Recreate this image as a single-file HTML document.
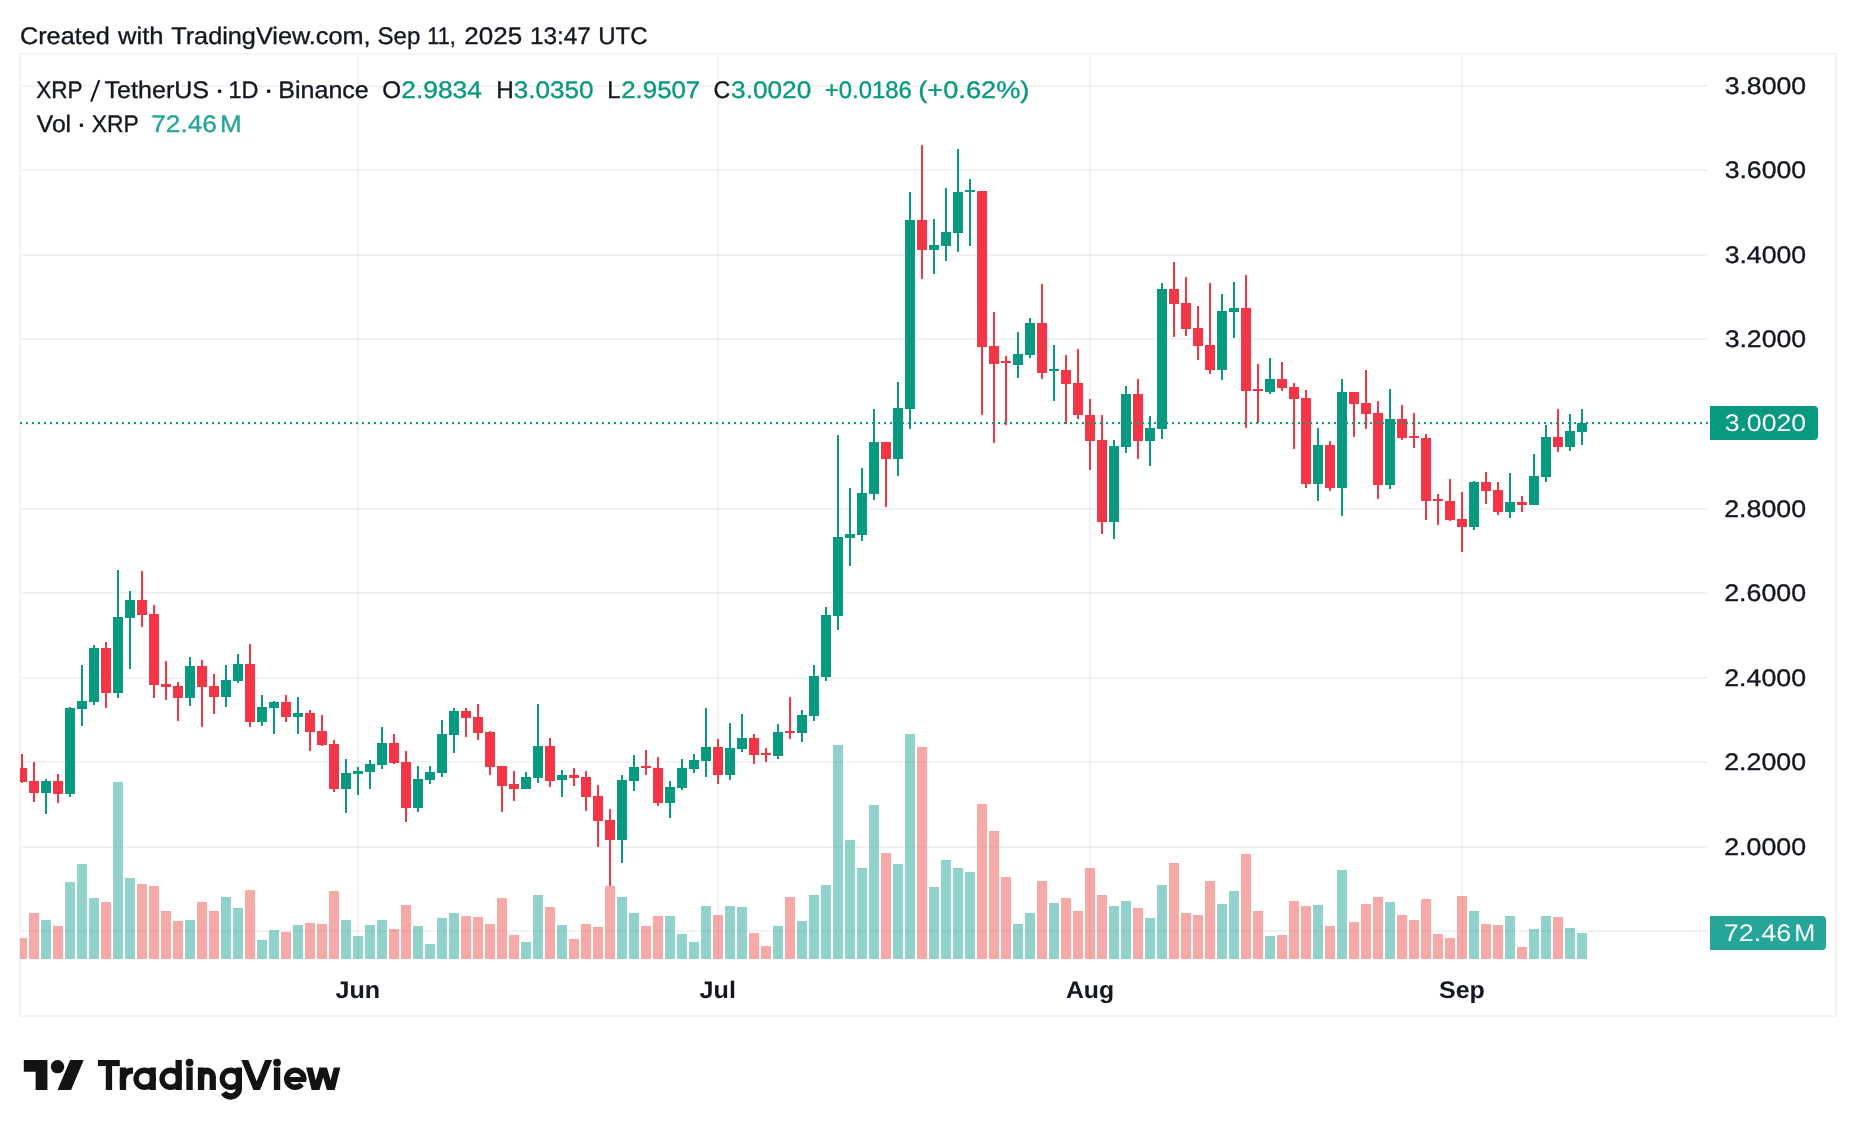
<!DOCTYPE html>
<html><head><meta charset="utf-8"><title>XRPUSDT chart</title>
<style>html,body{margin:0;padding:0;background:#fff;}body{width:1856px;height:1136px;overflow:hidden;}svg{display:block;will-change:transform;}text{font-family:"Liberation Sans",sans-serif;}</style>
</head><body>
<svg width="1856" height="1136" viewBox="0 0 1856 1136" shape-rendering="crispEdges">
<rect x="0" y="0" width="1856" height="1136" fill="#ffffff"/>
<defs><clipPath id="plot"><rect x="20" y="55" width="1688" height="905"/></clipPath></defs>
<rect x="19" y="53" width="1818" height="2" fill="#f3f3f3"/>
<rect x="19" y="1015" width="1818" height="2" fill="#f3f3f3"/>
<rect x="19" y="53" width="2" height="964" fill="#f3f3f3"/>
<rect x="1835" y="53" width="2" height="964" fill="#f3f3f3"/>
<rect x="21" y="85" width="1687" height="2" fill="rgba(30,30,30,0.06)"/>
<rect x="21" y="169" width="1687" height="2" fill="rgba(30,30,30,0.06)"/>
<rect x="21" y="254" width="1687" height="2" fill="rgba(30,30,30,0.06)"/>
<rect x="21" y="338" width="1687" height="2" fill="rgba(30,30,30,0.06)"/>
<rect x="21" y="423" width="1687" height="2" fill="rgba(30,30,30,0.06)"/>
<rect x="21" y="508" width="1687" height="2" fill="rgba(30,30,30,0.06)"/>
<rect x="21" y="592" width="1687" height="2" fill="rgba(30,30,30,0.06)"/>
<rect x="21" y="677" width="1687" height="2" fill="rgba(30,30,30,0.06)"/>
<rect x="21" y="761" width="1687" height="2" fill="rgba(30,30,30,0.06)"/>
<rect x="21" y="846" width="1687" height="2" fill="rgba(30,30,30,0.06)"/>
<rect x="21" y="930" width="1687" height="2" fill="rgba(30,30,30,0.06)"/>
<rect x="357" y="55" width="2" height="905" fill="rgba(30,30,30,0.06)"/>
<rect x="717" y="55" width="2" height="905" fill="rgba(30,30,30,0.06)"/>
<rect x="1089" y="55" width="2" height="905" fill="rgba(30,30,30,0.06)"/>
<rect x="1461" y="55" width="2" height="905" fill="rgba(30,30,30,0.06)"/>
<g clip-path="url(#plot)">
<rect x="17" y="938" width="10" height="21" fill="rgba(239,83,80,0.5)"/>
<rect x="29" y="913" width="10" height="46" fill="rgba(239,83,80,0.5)"/>
<rect x="41" y="920" width="10" height="39" fill="rgba(38,166,154,0.5)"/>
<rect x="53" y="926" width="10" height="33" fill="rgba(239,83,80,0.5)"/>
<rect x="65" y="882" width="10" height="77" fill="rgba(38,166,154,0.5)"/>
<rect x="77" y="864" width="10" height="95" fill="rgba(38,166,154,0.5)"/>
<rect x="89" y="898" width="10" height="61" fill="rgba(38,166,154,0.5)"/>
<rect x="101" y="902" width="10" height="57" fill="rgba(239,83,80,0.5)"/>
<rect x="113" y="782" width="10" height="177" fill="rgba(38,166,154,0.5)"/>
<rect x="125" y="878" width="10" height="81" fill="rgba(38,166,154,0.5)"/>
<rect x="137" y="884" width="10" height="75" fill="rgba(239,83,80,0.5)"/>
<rect x="149" y="886" width="10" height="73" fill="rgba(239,83,80,0.5)"/>
<rect x="161" y="911" width="10" height="48" fill="rgba(239,83,80,0.5)"/>
<rect x="173" y="921" width="10" height="38" fill="rgba(239,83,80,0.5)"/>
<rect x="185" y="920" width="10" height="39" fill="rgba(38,166,154,0.5)"/>
<rect x="197" y="902" width="10" height="57" fill="rgba(239,83,80,0.5)"/>
<rect x="209" y="911" width="10" height="48" fill="rgba(239,83,80,0.5)"/>
<rect x="221" y="897" width="10" height="62" fill="rgba(38,166,154,0.5)"/>
<rect x="233" y="908" width="10" height="51" fill="rgba(38,166,154,0.5)"/>
<rect x="245" y="890" width="10" height="69" fill="rgba(239,83,80,0.5)"/>
<rect x="257" y="940" width="10" height="19" fill="rgba(38,166,154,0.5)"/>
<rect x="269" y="930" width="10" height="29" fill="rgba(38,166,154,0.5)"/>
<rect x="281" y="932" width="10" height="27" fill="rgba(239,83,80,0.5)"/>
<rect x="293" y="925" width="10" height="34" fill="rgba(38,166,154,0.5)"/>
<rect x="305" y="923" width="10" height="36" fill="rgba(239,83,80,0.5)"/>
<rect x="317" y="924" width="10" height="35" fill="rgba(239,83,80,0.5)"/>
<rect x="329" y="891" width="10" height="68" fill="rgba(239,83,80,0.5)"/>
<rect x="341" y="920" width="10" height="39" fill="rgba(38,166,154,0.5)"/>
<rect x="353" y="936" width="10" height="23" fill="rgba(38,166,154,0.5)"/>
<rect x="365" y="925" width="10" height="34" fill="rgba(38,166,154,0.5)"/>
<rect x="377" y="920" width="10" height="39" fill="rgba(38,166,154,0.5)"/>
<rect x="389" y="929" width="10" height="30" fill="rgba(239,83,80,0.5)"/>
<rect x="401" y="905" width="10" height="54" fill="rgba(239,83,80,0.5)"/>
<rect x="413" y="926" width="10" height="33" fill="rgba(38,166,154,0.5)"/>
<rect x="425" y="944" width="10" height="15" fill="rgba(38,166,154,0.5)"/>
<rect x="437" y="918" width="10" height="41" fill="rgba(38,166,154,0.5)"/>
<rect x="449" y="913" width="10" height="46" fill="rgba(38,166,154,0.5)"/>
<rect x="461" y="916" width="10" height="43" fill="rgba(239,83,80,0.5)"/>
<rect x="473" y="917" width="10" height="42" fill="rgba(239,83,80,0.5)"/>
<rect x="485" y="924" width="10" height="35" fill="rgba(239,83,80,0.5)"/>
<rect x="497" y="898" width="10" height="61" fill="rgba(239,83,80,0.5)"/>
<rect x="509" y="935" width="10" height="24" fill="rgba(239,83,80,0.5)"/>
<rect x="521" y="942" width="10" height="17" fill="rgba(38,166,154,0.5)"/>
<rect x="533" y="895" width="10" height="64" fill="rgba(38,166,154,0.5)"/>
<rect x="545" y="907" width="10" height="52" fill="rgba(239,83,80,0.5)"/>
<rect x="557" y="925" width="10" height="34" fill="rgba(38,166,154,0.5)"/>
<rect x="569" y="939" width="10" height="20" fill="rgba(239,83,80,0.5)"/>
<rect x="581" y="924" width="10" height="35" fill="rgba(239,83,80,0.5)"/>
<rect x="593" y="927" width="10" height="32" fill="rgba(239,83,80,0.5)"/>
<rect x="605" y="886" width="10" height="73" fill="rgba(239,83,80,0.5)"/>
<rect x="617" y="897" width="10" height="62" fill="rgba(38,166,154,0.5)"/>
<rect x="629" y="913" width="10" height="46" fill="rgba(38,166,154,0.5)"/>
<rect x="641" y="926" width="10" height="33" fill="rgba(239,83,80,0.5)"/>
<rect x="653" y="916" width="10" height="43" fill="rgba(239,83,80,0.5)"/>
<rect x="665" y="916" width="10" height="43" fill="rgba(38,166,154,0.5)"/>
<rect x="677" y="934" width="10" height="25" fill="rgba(38,166,154,0.5)"/>
<rect x="689" y="942" width="10" height="17" fill="rgba(38,166,154,0.5)"/>
<rect x="701" y="906" width="10" height="53" fill="rgba(38,166,154,0.5)"/>
<rect x="713" y="915" width="10" height="44" fill="rgba(239,83,80,0.5)"/>
<rect x="725" y="906" width="10" height="53" fill="rgba(38,166,154,0.5)"/>
<rect x="737" y="907" width="10" height="52" fill="rgba(38,166,154,0.5)"/>
<rect x="749" y="933" width="10" height="26" fill="rgba(239,83,80,0.5)"/>
<rect x="761" y="946" width="10" height="13" fill="rgba(239,83,80,0.5)"/>
<rect x="773" y="926" width="10" height="33" fill="rgba(38,166,154,0.5)"/>
<rect x="785" y="897" width="10" height="62" fill="rgba(239,83,80,0.5)"/>
<rect x="797" y="921" width="10" height="38" fill="rgba(38,166,154,0.5)"/>
<rect x="809" y="895" width="10" height="64" fill="rgba(38,166,154,0.5)"/>
<rect x="821" y="885" width="10" height="74" fill="rgba(38,166,154,0.5)"/>
<rect x="833" y="745" width="10" height="214" fill="rgba(38,166,154,0.5)"/>
<rect x="845" y="840" width="10" height="119" fill="rgba(38,166,154,0.5)"/>
<rect x="857" y="868" width="10" height="91" fill="rgba(38,166,154,0.5)"/>
<rect x="869" y="805" width="10" height="154" fill="rgba(38,166,154,0.5)"/>
<rect x="881" y="853" width="10" height="106" fill="rgba(239,83,80,0.5)"/>
<rect x="893" y="864" width="10" height="95" fill="rgba(38,166,154,0.5)"/>
<rect x="905" y="734" width="10" height="225" fill="rgba(38,166,154,0.5)"/>
<rect x="917" y="747" width="10" height="212" fill="rgba(239,83,80,0.5)"/>
<rect x="929" y="887" width="10" height="72" fill="rgba(38,166,154,0.5)"/>
<rect x="941" y="860" width="10" height="99" fill="rgba(38,166,154,0.5)"/>
<rect x="953" y="868" width="10" height="91" fill="rgba(38,166,154,0.5)"/>
<rect x="965" y="872" width="10" height="87" fill="rgba(38,166,154,0.5)"/>
<rect x="977" y="804" width="10" height="155" fill="rgba(239,83,80,0.5)"/>
<rect x="989" y="831" width="10" height="128" fill="rgba(239,83,80,0.5)"/>
<rect x="1001" y="877" width="10" height="82" fill="rgba(239,83,80,0.5)"/>
<rect x="1013" y="924" width="10" height="35" fill="rgba(38,166,154,0.5)"/>
<rect x="1025" y="913" width="10" height="46" fill="rgba(38,166,154,0.5)"/>
<rect x="1037" y="881" width="10" height="78" fill="rgba(239,83,80,0.5)"/>
<rect x="1049" y="903" width="10" height="56" fill="rgba(38,166,154,0.5)"/>
<rect x="1061" y="898" width="10" height="61" fill="rgba(239,83,80,0.5)"/>
<rect x="1073" y="911" width="10" height="48" fill="rgba(239,83,80,0.5)"/>
<rect x="1085" y="868" width="10" height="91" fill="rgba(239,83,80,0.5)"/>
<rect x="1097" y="895" width="10" height="64" fill="rgba(239,83,80,0.5)"/>
<rect x="1109" y="906" width="10" height="53" fill="rgba(38,166,154,0.5)"/>
<rect x="1121" y="901" width="10" height="58" fill="rgba(38,166,154,0.5)"/>
<rect x="1133" y="908" width="10" height="51" fill="rgba(239,83,80,0.5)"/>
<rect x="1145" y="918" width="10" height="41" fill="rgba(38,166,154,0.5)"/>
<rect x="1157" y="885" width="10" height="74" fill="rgba(38,166,154,0.5)"/>
<rect x="1169" y="863" width="10" height="96" fill="rgba(239,83,80,0.5)"/>
<rect x="1181" y="913" width="10" height="46" fill="rgba(239,83,80,0.5)"/>
<rect x="1193" y="915" width="10" height="44" fill="rgba(239,83,80,0.5)"/>
<rect x="1205" y="881" width="10" height="78" fill="rgba(239,83,80,0.5)"/>
<rect x="1217" y="904" width="10" height="55" fill="rgba(38,166,154,0.5)"/>
<rect x="1229" y="891" width="10" height="68" fill="rgba(38,166,154,0.5)"/>
<rect x="1241" y="854" width="10" height="105" fill="rgba(239,83,80,0.5)"/>
<rect x="1253" y="911" width="10" height="48" fill="rgba(239,83,80,0.5)"/>
<rect x="1265" y="936" width="10" height="23" fill="rgba(38,166,154,0.5)"/>
<rect x="1277" y="935" width="10" height="24" fill="rgba(239,83,80,0.5)"/>
<rect x="1289" y="901" width="10" height="58" fill="rgba(239,83,80,0.5)"/>
<rect x="1301" y="906" width="10" height="53" fill="rgba(239,83,80,0.5)"/>
<rect x="1313" y="905" width="10" height="54" fill="rgba(38,166,154,0.5)"/>
<rect x="1325" y="926" width="10" height="33" fill="rgba(239,83,80,0.5)"/>
<rect x="1337" y="870" width="10" height="89" fill="rgba(38,166,154,0.5)"/>
<rect x="1349" y="922" width="10" height="37" fill="rgba(239,83,80,0.5)"/>
<rect x="1361" y="904" width="10" height="55" fill="rgba(239,83,80,0.5)"/>
<rect x="1373" y="897" width="10" height="62" fill="rgba(239,83,80,0.5)"/>
<rect x="1385" y="902" width="10" height="57" fill="rgba(38,166,154,0.5)"/>
<rect x="1397" y="915" width="10" height="44" fill="rgba(239,83,80,0.5)"/>
<rect x="1409" y="920" width="10" height="39" fill="rgba(239,83,80,0.5)"/>
<rect x="1421" y="899" width="10" height="60" fill="rgba(239,83,80,0.5)"/>
<rect x="1433" y="934" width="10" height="25" fill="rgba(239,83,80,0.5)"/>
<rect x="1445" y="938" width="10" height="21" fill="rgba(239,83,80,0.5)"/>
<rect x="1457" y="896" width="10" height="63" fill="rgba(239,83,80,0.5)"/>
<rect x="1469" y="911" width="10" height="48" fill="rgba(38,166,154,0.5)"/>
<rect x="1481" y="924" width="10" height="35" fill="rgba(239,83,80,0.5)"/>
<rect x="1493" y="925" width="10" height="34" fill="rgba(239,83,80,0.5)"/>
<rect x="1505" y="916" width="10" height="43" fill="rgba(38,166,154,0.5)"/>
<rect x="1517" y="947" width="10" height="12" fill="rgba(239,83,80,0.5)"/>
<rect x="1529" y="929" width="10" height="30" fill="rgba(38,166,154,0.5)"/>
<rect x="1541" y="916" width="10" height="43" fill="rgba(38,166,154,0.5)"/>
<rect x="1553" y="917" width="10" height="42" fill="rgba(239,83,80,0.5)"/>
<rect x="1565" y="928" width="10" height="31" fill="rgba(38,166,154,0.5)"/>
<rect x="1577" y="933" width="10" height="26" fill="rgba(38,166,154,0.5)"/>
<rect x="21" y="754" width="2" height="29" fill="#f23645"/>
<rect x="17" y="768" width="10" height="14" fill="#f23645"/>
<rect x="33" y="762" width="2" height="40" fill="#f23645"/>
<rect x="29" y="781" width="10" height="12" fill="#f23645"/>
<rect x="45" y="779" width="2" height="35" fill="#089981"/>
<rect x="41" y="781" width="10" height="12" fill="#089981"/>
<rect x="57" y="774" width="2" height="29" fill="#f23645"/>
<rect x="53" y="781" width="10" height="13" fill="#f23645"/>
<rect x="69" y="707" width="2" height="90" fill="#089981"/>
<rect x="65" y="708" width="10" height="86" fill="#089981"/>
<rect x="81" y="665" width="2" height="61" fill="#089981"/>
<rect x="77" y="701" width="10" height="8" fill="#089981"/>
<rect x="93" y="645" width="2" height="60" fill="#089981"/>
<rect x="89" y="648" width="10" height="54" fill="#089981"/>
<rect x="105" y="642" width="2" height="66" fill="#f23645"/>
<rect x="101" y="648" width="10" height="45" fill="#f23645"/>
<rect x="117" y="570" width="2" height="128" fill="#089981"/>
<rect x="113" y="617" width="10" height="76" fill="#089981"/>
<rect x="129" y="591" width="2" height="78" fill="#089981"/>
<rect x="125" y="600" width="10" height="18" fill="#089981"/>
<rect x="141" y="571" width="2" height="56" fill="#f23645"/>
<rect x="137" y="600" width="10" height="15" fill="#f23645"/>
<rect x="153" y="605" width="2" height="93" fill="#f23645"/>
<rect x="149" y="614" width="10" height="71" fill="#f23645"/>
<rect x="165" y="661" width="2" height="39" fill="#f23645"/>
<rect x="161" y="684" width="10" height="3" fill="#f23645"/>
<rect x="177" y="682" width="2" height="39" fill="#f23645"/>
<rect x="173" y="686" width="10" height="12" fill="#f23645"/>
<rect x="189" y="657" width="2" height="49" fill="#089981"/>
<rect x="185" y="666" width="10" height="32" fill="#089981"/>
<rect x="201" y="660" width="2" height="67" fill="#f23645"/>
<rect x="197" y="666" width="10" height="21" fill="#f23645"/>
<rect x="213" y="674" width="2" height="40" fill="#f23645"/>
<rect x="209" y="686" width="10" height="11" fill="#f23645"/>
<rect x="225" y="665" width="2" height="42" fill="#089981"/>
<rect x="221" y="680" width="10" height="17" fill="#089981"/>
<rect x="237" y="654" width="2" height="29" fill="#089981"/>
<rect x="233" y="664" width="10" height="17" fill="#089981"/>
<rect x="249" y="644" width="2" height="83" fill="#f23645"/>
<rect x="245" y="664" width="10" height="58" fill="#f23645"/>
<rect x="261" y="695" width="2" height="31" fill="#089981"/>
<rect x="257" y="707" width="10" height="15" fill="#089981"/>
<rect x="273" y="701" width="2" height="33" fill="#089981"/>
<rect x="269" y="702" width="10" height="6" fill="#089981"/>
<rect x="285" y="695" width="2" height="27" fill="#f23645"/>
<rect x="281" y="702" width="10" height="15" fill="#f23645"/>
<rect x="297" y="697" width="2" height="37" fill="#089981"/>
<rect x="293" y="713" width="10" height="4" fill="#089981"/>
<rect x="309" y="710" width="2" height="41" fill="#f23645"/>
<rect x="305" y="713" width="10" height="19" fill="#f23645"/>
<rect x="321" y="715" width="2" height="31" fill="#f23645"/>
<rect x="317" y="731" width="10" height="14" fill="#f23645"/>
<rect x="333" y="740" width="2" height="52" fill="#f23645"/>
<rect x="329" y="744" width="10" height="45" fill="#f23645"/>
<rect x="345" y="759" width="2" height="54" fill="#089981"/>
<rect x="341" y="773" width="10" height="16" fill="#089981"/>
<rect x="357" y="767" width="2" height="28" fill="#089981"/>
<rect x="353" y="771" width="10" height="3" fill="#089981"/>
<rect x="369" y="760" width="2" height="29" fill="#089981"/>
<rect x="365" y="764" width="10" height="8" fill="#089981"/>
<rect x="381" y="727" width="2" height="42" fill="#089981"/>
<rect x="377" y="743" width="10" height="22" fill="#089981"/>
<rect x="393" y="734" width="2" height="30" fill="#f23645"/>
<rect x="389" y="743" width="10" height="20" fill="#f23645"/>
<rect x="405" y="751" width="2" height="71" fill="#f23645"/>
<rect x="401" y="762" width="10" height="46" fill="#f23645"/>
<rect x="417" y="766" width="2" height="46" fill="#089981"/>
<rect x="413" y="779" width="10" height="29" fill="#089981"/>
<rect x="429" y="766" width="2" height="18" fill="#089981"/>
<rect x="425" y="772" width="10" height="8" fill="#089981"/>
<rect x="441" y="720" width="2" height="57" fill="#089981"/>
<rect x="437" y="734" width="10" height="39" fill="#089981"/>
<rect x="453" y="708" width="2" height="45" fill="#089981"/>
<rect x="449" y="711" width="10" height="24" fill="#089981"/>
<rect x="465" y="708" width="2" height="29" fill="#f23645"/>
<rect x="461" y="711" width="10" height="7" fill="#f23645"/>
<rect x="477" y="704" width="2" height="36" fill="#f23645"/>
<rect x="473" y="717" width="10" height="16" fill="#f23645"/>
<rect x="489" y="731" width="2" height="44" fill="#f23645"/>
<rect x="485" y="732" width="10" height="35" fill="#f23645"/>
<rect x="501" y="766" width="2" height="46" fill="#f23645"/>
<rect x="497" y="766" width="10" height="20" fill="#f23645"/>
<rect x="513" y="771" width="2" height="30" fill="#f23645"/>
<rect x="509" y="784" width="10" height="5" fill="#f23645"/>
<rect x="525" y="772" width="2" height="17" fill="#089981"/>
<rect x="521" y="777" width="10" height="12" fill="#089981"/>
<rect x="537" y="704" width="2" height="79" fill="#089981"/>
<rect x="533" y="746" width="10" height="32" fill="#089981"/>
<rect x="549" y="738" width="2" height="49" fill="#f23645"/>
<rect x="545" y="746" width="10" height="35" fill="#f23645"/>
<rect x="561" y="770" width="2" height="27" fill="#089981"/>
<rect x="557" y="775" width="10" height="5" fill="#089981"/>
<rect x="573" y="768" width="2" height="18" fill="#f23645"/>
<rect x="569" y="775" width="10" height="3" fill="#f23645"/>
<rect x="585" y="771" width="2" height="40" fill="#f23645"/>
<rect x="581" y="777" width="10" height="20" fill="#f23645"/>
<rect x="597" y="785" width="2" height="62" fill="#f23645"/>
<rect x="593" y="796" width="10" height="25" fill="#f23645"/>
<rect x="609" y="809" width="2" height="77" fill="#f23645"/>
<rect x="605" y="820" width="10" height="20" fill="#f23645"/>
<rect x="621" y="775" width="2" height="88" fill="#089981"/>
<rect x="617" y="780" width="10" height="60" fill="#089981"/>
<rect x="633" y="755" width="2" height="36" fill="#089981"/>
<rect x="629" y="767" width="10" height="14" fill="#089981"/>
<rect x="645" y="750" width="2" height="25" fill="#f23645"/>
<rect x="641" y="766" width="10" height="2" fill="#f23645"/>
<rect x="657" y="757" width="2" height="49" fill="#f23645"/>
<rect x="653" y="768" width="10" height="35" fill="#f23645"/>
<rect x="669" y="781" width="2" height="37" fill="#089981"/>
<rect x="665" y="787" width="10" height="16" fill="#089981"/>
<rect x="681" y="759" width="2" height="31" fill="#089981"/>
<rect x="677" y="768" width="10" height="20" fill="#089981"/>
<rect x="693" y="754" width="2" height="19" fill="#089981"/>
<rect x="689" y="760" width="10" height="9" fill="#089981"/>
<rect x="705" y="708" width="2" height="69" fill="#089981"/>
<rect x="701" y="747" width="10" height="14" fill="#089981"/>
<rect x="717" y="739" width="2" height="45" fill="#f23645"/>
<rect x="713" y="747" width="10" height="28" fill="#f23645"/>
<rect x="729" y="723" width="2" height="57" fill="#089981"/>
<rect x="725" y="748" width="10" height="27" fill="#089981"/>
<rect x="741" y="714" width="2" height="38" fill="#089981"/>
<rect x="737" y="738" width="10" height="11" fill="#089981"/>
<rect x="753" y="734" width="2" height="30" fill="#f23645"/>
<rect x="749" y="738" width="10" height="17" fill="#f23645"/>
<rect x="765" y="748" width="2" height="14" fill="#f23645"/>
<rect x="761" y="753" width="10" height="2" fill="#f23645"/>
<rect x="777" y="724" width="2" height="35" fill="#089981"/>
<rect x="773" y="732" width="10" height="24" fill="#089981"/>
<rect x="789" y="697" width="2" height="42" fill="#f23645"/>
<rect x="785" y="731" width="10" height="2" fill="#f23645"/>
<rect x="801" y="710" width="2" height="32" fill="#089981"/>
<rect x="797" y="715" width="10" height="18" fill="#089981"/>
<rect x="813" y="665" width="2" height="56" fill="#089981"/>
<rect x="809" y="676" width="10" height="40" fill="#089981"/>
<rect x="825" y="607" width="2" height="74" fill="#089981"/>
<rect x="821" y="615" width="10" height="62" fill="#089981"/>
<rect x="837" y="435" width="2" height="195" fill="#089981"/>
<rect x="833" y="537" width="10" height="79" fill="#089981"/>
<rect x="849" y="488" width="2" height="78" fill="#089981"/>
<rect x="845" y="534" width="10" height="4" fill="#089981"/>
<rect x="861" y="468" width="2" height="73" fill="#089981"/>
<rect x="857" y="493" width="10" height="42" fill="#089981"/>
<rect x="873" y="409" width="2" height="91" fill="#089981"/>
<rect x="869" y="442" width="10" height="52" fill="#089981"/>
<rect x="885" y="442" width="2" height="65" fill="#f23645"/>
<rect x="881" y="442" width="10" height="17" fill="#f23645"/>
<rect x="897" y="382" width="2" height="94" fill="#089981"/>
<rect x="893" y="408" width="10" height="51" fill="#089981"/>
<rect x="909" y="192" width="2" height="237" fill="#089981"/>
<rect x="905" y="220" width="10" height="189" fill="#089981"/>
<rect x="921" y="145" width="2" height="134" fill="#f23645"/>
<rect x="917" y="220" width="10" height="30" fill="#f23645"/>
<rect x="933" y="219" width="2" height="55" fill="#089981"/>
<rect x="929" y="245" width="10" height="5" fill="#089981"/>
<rect x="945" y="188" width="2" height="73" fill="#089981"/>
<rect x="941" y="232" width="10" height="14" fill="#089981"/>
<rect x="957" y="149" width="2" height="103" fill="#089981"/>
<rect x="953" y="192" width="10" height="41" fill="#089981"/>
<rect x="969" y="179" width="2" height="67" fill="#089981"/>
<rect x="965" y="190" width="10" height="2" fill="#089981"/>
<rect x="981" y="191" width="2" height="224" fill="#f23645"/>
<rect x="977" y="191" width="10" height="156" fill="#f23645"/>
<rect x="993" y="312" width="2" height="131" fill="#f23645"/>
<rect x="989" y="346" width="10" height="18" fill="#f23645"/>
<rect x="1005" y="356" width="2" height="69" fill="#f23645"/>
<rect x="1001" y="361" width="10" height="2" fill="#f23645"/>
<rect x="1017" y="332" width="2" height="46" fill="#089981"/>
<rect x="1013" y="354" width="10" height="11" fill="#089981"/>
<rect x="1029" y="318" width="2" height="40" fill="#089981"/>
<rect x="1025" y="323" width="10" height="32" fill="#089981"/>
<rect x="1041" y="284" width="2" height="95" fill="#f23645"/>
<rect x="1037" y="323" width="10" height="50" fill="#f23645"/>
<rect x="1053" y="345" width="2" height="56" fill="#089981"/>
<rect x="1049" y="369" width="10" height="2" fill="#089981"/>
<rect x="1065" y="355" width="2" height="69" fill="#f23645"/>
<rect x="1061" y="370" width="10" height="14" fill="#f23645"/>
<rect x="1077" y="349" width="2" height="70" fill="#f23645"/>
<rect x="1073" y="383" width="10" height="32" fill="#f23645"/>
<rect x="1089" y="399" width="2" height="71" fill="#f23645"/>
<rect x="1085" y="415" width="10" height="26" fill="#f23645"/>
<rect x="1101" y="415" width="2" height="119" fill="#f23645"/>
<rect x="1097" y="440" width="10" height="82" fill="#f23645"/>
<rect x="1113" y="440" width="2" height="99" fill="#089981"/>
<rect x="1109" y="446" width="10" height="76" fill="#089981"/>
<rect x="1125" y="386" width="2" height="67" fill="#089981"/>
<rect x="1121" y="394" width="10" height="53" fill="#089981"/>
<rect x="1137" y="379" width="2" height="80" fill="#f23645"/>
<rect x="1133" y="394" width="10" height="47" fill="#f23645"/>
<rect x="1149" y="416" width="2" height="50" fill="#089981"/>
<rect x="1145" y="428" width="10" height="13" fill="#089981"/>
<rect x="1161" y="283" width="2" height="156" fill="#089981"/>
<rect x="1157" y="289" width="10" height="140" fill="#089981"/>
<rect x="1173" y="262" width="2" height="75" fill="#f23645"/>
<rect x="1169" y="289" width="10" height="15" fill="#f23645"/>
<rect x="1185" y="277" width="2" height="59" fill="#f23645"/>
<rect x="1181" y="303" width="10" height="26" fill="#f23645"/>
<rect x="1197" y="306" width="2" height="54" fill="#f23645"/>
<rect x="1193" y="328" width="10" height="18" fill="#f23645"/>
<rect x="1209" y="283" width="2" height="91" fill="#f23645"/>
<rect x="1205" y="345" width="10" height="25" fill="#f23645"/>
<rect x="1221" y="294" width="2" height="86" fill="#089981"/>
<rect x="1217" y="311" width="10" height="59" fill="#089981"/>
<rect x="1233" y="282" width="2" height="56" fill="#089981"/>
<rect x="1229" y="308" width="10" height="4" fill="#089981"/>
<rect x="1245" y="275" width="2" height="153" fill="#f23645"/>
<rect x="1241" y="308" width="10" height="83" fill="#f23645"/>
<rect x="1257" y="364" width="2" height="59" fill="#f23645"/>
<rect x="1253" y="389" width="10" height="2" fill="#f23645"/>
<rect x="1269" y="358" width="2" height="36" fill="#089981"/>
<rect x="1265" y="379" width="10" height="13" fill="#089981"/>
<rect x="1281" y="362" width="2" height="29" fill="#f23645"/>
<rect x="1277" y="379" width="10" height="9" fill="#f23645"/>
<rect x="1293" y="383" width="2" height="66" fill="#f23645"/>
<rect x="1289" y="387" width="10" height="12" fill="#f23645"/>
<rect x="1305" y="390" width="2" height="98" fill="#f23645"/>
<rect x="1301" y="398" width="10" height="86" fill="#f23645"/>
<rect x="1317" y="428" width="2" height="73" fill="#089981"/>
<rect x="1313" y="445" width="10" height="39" fill="#089981"/>
<rect x="1329" y="441" width="2" height="50" fill="#f23645"/>
<rect x="1325" y="445" width="10" height="43" fill="#f23645"/>
<rect x="1341" y="379" width="2" height="137" fill="#089981"/>
<rect x="1337" y="392" width="10" height="96" fill="#089981"/>
<rect x="1353" y="392" width="2" height="45" fill="#f23645"/>
<rect x="1349" y="392" width="10" height="12" fill="#f23645"/>
<rect x="1365" y="370" width="2" height="59" fill="#f23645"/>
<rect x="1361" y="403" width="10" height="11" fill="#f23645"/>
<rect x="1377" y="401" width="2" height="98" fill="#f23645"/>
<rect x="1373" y="413" width="10" height="72" fill="#f23645"/>
<rect x="1389" y="389" width="2" height="100" fill="#089981"/>
<rect x="1385" y="419" width="10" height="66" fill="#089981"/>
<rect x="1401" y="405" width="2" height="35" fill="#f23645"/>
<rect x="1397" y="419" width="10" height="19" fill="#f23645"/>
<rect x="1413" y="413" width="2" height="35" fill="#f23645"/>
<rect x="1409" y="436" width="10" height="2" fill="#f23645"/>
<rect x="1425" y="434" width="2" height="86" fill="#f23645"/>
<rect x="1421" y="438" width="10" height="63" fill="#f23645"/>
<rect x="1437" y="494" width="2" height="31" fill="#f23645"/>
<rect x="1433" y="499" width="10" height="2" fill="#f23645"/>
<rect x="1449" y="479" width="2" height="42" fill="#f23645"/>
<rect x="1445" y="501" width="10" height="19" fill="#f23645"/>
<rect x="1461" y="492" width="2" height="60" fill="#f23645"/>
<rect x="1457" y="519" width="10" height="8" fill="#f23645"/>
<rect x="1473" y="481" width="2" height="49" fill="#089981"/>
<rect x="1469" y="482" width="10" height="45" fill="#089981"/>
<rect x="1485" y="472" width="2" height="32" fill="#f23645"/>
<rect x="1481" y="482" width="10" height="9" fill="#f23645"/>
<rect x="1497" y="482" width="2" height="33" fill="#f23645"/>
<rect x="1493" y="490" width="10" height="22" fill="#f23645"/>
<rect x="1509" y="473" width="2" height="45" fill="#089981"/>
<rect x="1505" y="502" width="10" height="10" fill="#089981"/>
<rect x="1521" y="496" width="2" height="16" fill="#f23645"/>
<rect x="1517" y="502" width="10" height="3" fill="#f23645"/>
<rect x="1533" y="454" width="2" height="51" fill="#089981"/>
<rect x="1529" y="476" width="10" height="29" fill="#089981"/>
<rect x="1545" y="425" width="2" height="57" fill="#089981"/>
<rect x="1541" y="437" width="10" height="40" fill="#089981"/>
<rect x="1557" y="409" width="2" height="43" fill="#f23645"/>
<rect x="1553" y="437" width="10" height="10" fill="#f23645"/>
<rect x="1569" y="414" width="2" height="37" fill="#089981"/>
<rect x="1565" y="431" width="10" height="16" fill="#089981"/>
<rect x="1581" y="409" width="2" height="36" fill="#089981"/>
<rect x="1577" y="423" width="10" height="9" fill="#089981"/>
</g>
<path d="M20 423H1710" stroke="#089981" stroke-width="2" stroke-dasharray="2 4" fill="none"/>
<path d="M1710 406H1814a4 4 0 0 1 4 4V436a4 4 0 0 1 -4 4H1710Z" fill="#089981" shape-rendering="auto"/>
<path d="M1710 916H1822a4 4 0 0 1 4 4V946a4 4 0 0 1 -4 4H1710Z" fill="#26a69a" shape-rendering="auto"/>
<g shape-rendering="auto" text-rendering="geometricPrecision">
<text x="19.95" y="44" font-size="24" fill="#131722" stroke="#131722" stroke-width="0.35" font-weight="normal" textLength="89.91" lengthAdjust="spacingAndGlyphs">Created</text>
<text x="118.0" y="44" font-size="24" fill="#131722" stroke="#131722" stroke-width="0.35" font-weight="normal" textLength="45.51" lengthAdjust="spacingAndGlyphs">with</text>
<text x="171.2" y="44" font-size="24" fill="#131722" stroke="#131722" stroke-width="0.35" font-weight="normal" textLength="199.37" lengthAdjust="spacingAndGlyphs">TradingView.com,</text>
<text x="377.55" y="44" font-size="24" fill="#131722" stroke="#131722" stroke-width="0.35" font-weight="normal" textLength="42.74" lengthAdjust="spacingAndGlyphs">Sep</text>
<text x="427.24" y="44" font-size="24" fill="#131722" stroke="#131722" stroke-width="0.35" font-weight="normal" textLength="28.68" lengthAdjust="spacingAndGlyphs">11,</text>
<text x="464.25" y="44" font-size="24" fill="#131722" stroke="#131722" stroke-width="0.35" font-weight="normal" textLength="57.89" lengthAdjust="spacingAndGlyphs">2025</text>
<text x="529.9" y="44" font-size="24" fill="#131722" stroke="#131722" stroke-width="0.35" font-weight="normal" textLength="60.9" lengthAdjust="spacingAndGlyphs">13:47</text>
<text x="598.2" y="44" font-size="24" fill="#131722" stroke="#131722" stroke-width="0.35" font-weight="normal" textLength="49.31" lengthAdjust="spacingAndGlyphs">UTC</text>
<text x="36.32" y="98" font-size="24" fill="#131722" stroke="#131722" stroke-width="0.35" font-weight="normal" textLength="46.32" lengthAdjust="spacingAndGlyphs">XRP</text>
<path d="M91.1 101.6L99.3 80.2" stroke="#131722" stroke-width="2.1" fill="none"/>
<text x="104.6" y="98" font-size="24" fill="#131722" stroke="#131722" stroke-width="0.35" font-weight="normal" textLength="104.43" lengthAdjust="spacingAndGlyphs">TetherUS</text>
<rect x="217.90" y="89.50" width="3.4" height="3.4" rx="1.2" fill="#131722"/>
<text x="228.44" y="98" font-size="24" fill="#131722" stroke="#131722" stroke-width="0.35" font-weight="normal" textLength="29.97" lengthAdjust="spacingAndGlyphs">1D</text>
<rect x="266.95" y="89.50" width="3.4" height="3.4" rx="1.2" fill="#131722"/>
<text x="278.31" y="98" font-size="24" fill="#131722" stroke="#131722" stroke-width="0.35" font-weight="normal" textLength="90.44" lengthAdjust="spacingAndGlyphs">Binance</text>
<text x="382.38" y="98" font-size="24" fill="#131722" stroke="#131722" stroke-width="0.35" font-weight="normal" textLength="18.86" lengthAdjust="spacingAndGlyphs">O</text>
<text x="401.32" y="98" font-size="24" fill="#089981" stroke="#089981" stroke-width="0.35" font-weight="normal" textLength="80.5" lengthAdjust="spacingAndGlyphs">2.9834</text>
<text x="496.23" y="98" font-size="24" fill="#131722" stroke="#131722" stroke-width="0.35" font-weight="normal" textLength="17.52" lengthAdjust="spacingAndGlyphs">H</text>
<text x="513.68" y="98" font-size="24" fill="#089981" stroke="#089981" stroke-width="0.35" font-weight="normal" textLength="79.79" lengthAdjust="spacingAndGlyphs">3.0350</text>
<text x="607.34" y="98" font-size="24" fill="#131722" stroke="#131722" stroke-width="0.35" font-weight="normal" textLength="13.25" lengthAdjust="spacingAndGlyphs">L</text>
<text x="621.25" y="98" font-size="24" fill="#089981" stroke="#089981" stroke-width="0.35" font-weight="normal" textLength="78.94" lengthAdjust="spacingAndGlyphs">2.9507</text>
<text x="713.55" y="98" font-size="24" fill="#131722" stroke="#131722" stroke-width="0.35" font-weight="normal" textLength="16.69" lengthAdjust="spacingAndGlyphs">C</text>
<text x="731.08" y="98" font-size="24" fill="#089981" stroke="#089981" stroke-width="0.35" font-weight="normal" textLength="80.14" lengthAdjust="spacingAndGlyphs">3.0020</text>
<text x="824.78" y="98" font-size="24" fill="#089981" stroke="#089981" stroke-width="0.35" font-weight="normal" textLength="87.15" lengthAdjust="spacingAndGlyphs">+0.0186</text>
<text x="918.29" y="98" font-size="24" fill="#089981" stroke="#089981" stroke-width="0.35" font-weight="normal" textLength="111.15" lengthAdjust="spacingAndGlyphs">(+0.62%)</text>
<text x="36.83" y="132" font-size="24" fill="#131722" stroke="#131722" stroke-width="0.35" font-weight="normal" textLength="34.25" lengthAdjust="spacingAndGlyphs">Vol</text>
<rect x="79.70" y="123.50" width="3.4" height="3.4" rx="1.2" fill="#131722"/>
<text x="91.72" y="132" font-size="24" fill="#131722" stroke="#131722" stroke-width="0.35" font-weight="normal" textLength="47.03" lengthAdjust="spacingAndGlyphs">XRP</text>
<text x="151.19" y="132" font-size="24" fill="#26a69a" stroke="#26a69a" stroke-width="0.35" font-weight="normal" textLength="65.69" lengthAdjust="spacingAndGlyphs">72.46</text>
<text x="220.09" y="132" font-size="24" fill="#26a69a" stroke="#26a69a" stroke-width="0.35" font-weight="normal" textLength="21.68" lengthAdjust="spacingAndGlyphs">M</text>
<text x="1724.65" y="431" font-size="24" fill="#ffffff" font-weight="normal" textLength="81.54" lengthAdjust="spacingAndGlyphs">3.0020</text>
<text x="1723.88" y="941" font-size="24" fill="#ffffff" font-weight="normal" textLength="67.19" lengthAdjust="spacingAndGlyphs">72.46</text>
<text x="1794.31" y="941" font-size="24" fill="#ffffff" font-weight="normal" textLength="20.99" lengthAdjust="spacingAndGlyphs">M</text>
<text x="335.55" y="998" font-size="24" fill="#131722" font-weight="bold" textLength="44.66" lengthAdjust="spacingAndGlyphs">Jun</text>
<text x="699.55" y="998" font-size="24" fill="#131722" font-weight="bold" textLength="36.36" lengthAdjust="spacingAndGlyphs">Jul</text>
<text x="1065.94" y="998" font-size="24" fill="#131722" font-weight="bold" textLength="48.19" lengthAdjust="spacingAndGlyphs">Aug</text>
<text x="1438.94" y="998" font-size="24" fill="#131722" font-weight="bold" textLength="45.96" lengthAdjust="spacingAndGlyphs">Sep</text>
<text x="1724.65" y="94" font-size="24" fill="#131722" stroke="#131722" stroke-width="0.35" font-weight="normal" textLength="81.54" lengthAdjust="spacingAndGlyphs">3.8000</text>
<text x="1724.65" y="178" font-size="24" fill="#131722" stroke="#131722" stroke-width="0.35" font-weight="normal" textLength="81.54" lengthAdjust="spacingAndGlyphs">3.6000</text>
<text x="1724.65" y="263" font-size="24" fill="#131722" stroke="#131722" stroke-width="0.35" font-weight="normal" textLength="81.54" lengthAdjust="spacingAndGlyphs">3.4000</text>
<text x="1724.65" y="347" font-size="24" fill="#131722" stroke="#131722" stroke-width="0.35" font-weight="normal" textLength="81.54" lengthAdjust="spacingAndGlyphs">3.2000</text>
<text x="1724.21" y="517" font-size="24" fill="#131722" stroke="#131722" stroke-width="0.35" font-weight="normal" textLength="81.85" lengthAdjust="spacingAndGlyphs">2.8000</text>
<text x="1724.21" y="601" font-size="24" fill="#131722" stroke="#131722" stroke-width="0.35" font-weight="normal" textLength="81.85" lengthAdjust="spacingAndGlyphs">2.6000</text>
<text x="1724.21" y="686" font-size="24" fill="#131722" stroke="#131722" stroke-width="0.35" font-weight="normal" textLength="81.85" lengthAdjust="spacingAndGlyphs">2.4000</text>
<text x="1724.21" y="770" font-size="24" fill="#131722" stroke="#131722" stroke-width="0.35" font-weight="normal" textLength="81.85" lengthAdjust="spacingAndGlyphs">2.2000</text>
<text x="1724.21" y="855" font-size="24" fill="#131722" stroke="#131722" stroke-width="0.35" font-weight="normal" textLength="81.85" lengthAdjust="spacingAndGlyphs">2.0000</text>
<g transform="translate(23.8,1053.33) scale(1.687,1.6667)" fill="#121315"><path d="M14 22H7V11H0V4h14v18zM28 22h-8l7.5-18h8L28 22z"/><circle cx="20" cy="8" r="4"/></g>
</g>
<g fill="#121315" stroke="none" shape-rendering="auto">
<rect x="98" y="1060" width="21.8" height="6.1"/><rect x="105.8" y="1060" width="6.3" height="30"/>
<rect x="119.8" y="1067.5" width="6.3" height="22.5"/>
<rect x="149.5" y="1067.5" width="6.3" height="22.5"/>
<rect x="175.5" y="1060" width="6.3" height="30"/>
<rect x="186.4" y="1067.5" width="6.3" height="22.5"/>
<rect x="197.9" y="1067.5" width="6.3" height="22.5"/>
<rect x="273.9" y="1067.5" width="6.3" height="22.5"/>
<circle cx="189.55" cy="1062.6" r="3.9"/>
<circle cx="277.05" cy="1062.6" r="3.9"/>
<path d="M241.3 1060h7l8.4 21.3l8.4-21.3h7l-12.1 30h-6.6Z"/>
</g>
<g fill="none" stroke="#121315" stroke-width="5.4" shape-rendering="auto">
<path d="M122.95 1084V1079.6a8.95 8.95 0 0 1 8.95-8.95h1.1" stroke-width="6.3"/>
<circle cx="144.6" cy="1078.75" r="8.55"/>
<circle cx="170.6" cy="1078.75" r="8.55"/>
<circle cx="230.8" cy="1078.75" r="8.55"/>
<path d="M201.05 1080V1076.6a5.85 5.85 0 0 1 11.7 0V1090" stroke-width="6.3"/>
<path d="M238.85 1067.5V1088.4a8.1 8.1 0 0 1-8.1 8.1a8.6 8.6 0 0 1-7.2-3.9" stroke-width="6.3"/>
<path d="M301.75 1084.25A8.55 8.55 0 1 1 303.67 1079.94"/>
</g>
<clipPath id="eclip"><circle cx="295.2" cy="1078.75" r="11.25"/></clipPath>
<rect x="286.65" y="1077.35" width="22.5" height="4.5" fill="#121315" clip-path="url(#eclip)"/>
<clipPath id="wclip"><rect x="300" y="1067.5" width="45" height="22.5"/></clipPath>
<g clip-path="url(#wclip)"><path d="M308.4 1063.5L315.5 1092.5L323.2 1066L330.9 1092.5L338 1063.5" fill="none" stroke="#121315" stroke-width="6.3" stroke-linejoin="miter" stroke-miterlimit="10" shape-rendering="auto"/></g>
</svg></body></html>
